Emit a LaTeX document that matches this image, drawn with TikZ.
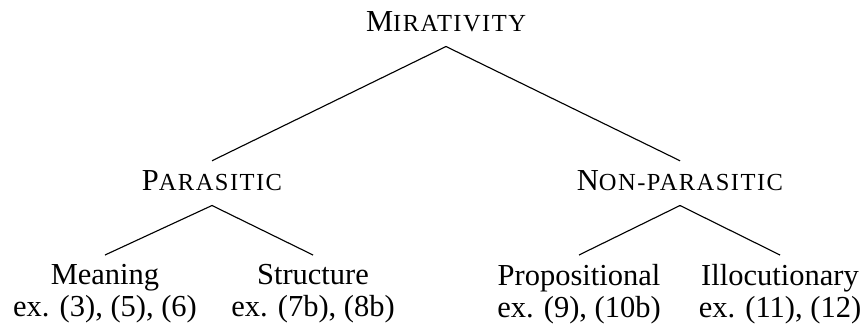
\documentclass[tikz,border=0pt]{standalone}
\usepackage{fontspec}
\setmainfont{Liberation Serif}
\newfontfamily\scwide[LetterSpace=6]{Liberation Serif}
\newcommand\fakesc[2]{#1{\scwide\fontsize{9.8}{10}\selectfont #2}}
\usetikzlibrary{positioning}
\tikzset{
  cat/.style  = {inner sep=0pt, text height=11.5pt, text depth=6pt, anchor=base,
                 font=\fontsize{12.2}{12.8}\selectfont},
  leaf/.style = {inner xsep=0pt, inner ysep=3.6pt, anchor=north, align=center,
                 font=\fontsize{12.2}{12.8}\selectfont},
  br/.style   = {draw=black, line width=0.45pt},
}

\begin{document}
\begin{tikzpicture}[x=0.4pt, y=-0.4pt]
    \useasboundingbox (0,0) rectangle (867,327);
    % categories
    \node[cat] (mir)  at (446,31)  {\fakesc{M}{IRATIVITY}};
    \node[cat] (par)  at (212,190) {\fakesc{P}{ARASITIC}};
    \node[cat] (npar) at (680,190) {\fakesc{N}{ON-PARASITIC}};
    % leaves
    \node[leaf] (mean) at (105,255) {Meaning\\ex. (3), (5), (6)};
    \node[leaf] (str)  at (313,255) {Structure\\ex. (7b), (8b)};
    \node[leaf] (prop) at (579,255) {Propositional\\ex. (9), (10b)};
    \node[leaf] (ill)  at (780,255) {Illocutionary\\ex. (11), (12)};
    % branches
    \draw[br] (mir.south) -- (par.north);
    \draw[br] (mir.south) -- (npar.north);
    \draw[br] (par.south) -- (mean.north);
    \draw[br] (par.south) -- (str.north);
    \draw[br] (npar.south) -- (prop.north);
    \draw[br] (npar.south) -- (ill.north);
\end{tikzpicture}
\end{document}
